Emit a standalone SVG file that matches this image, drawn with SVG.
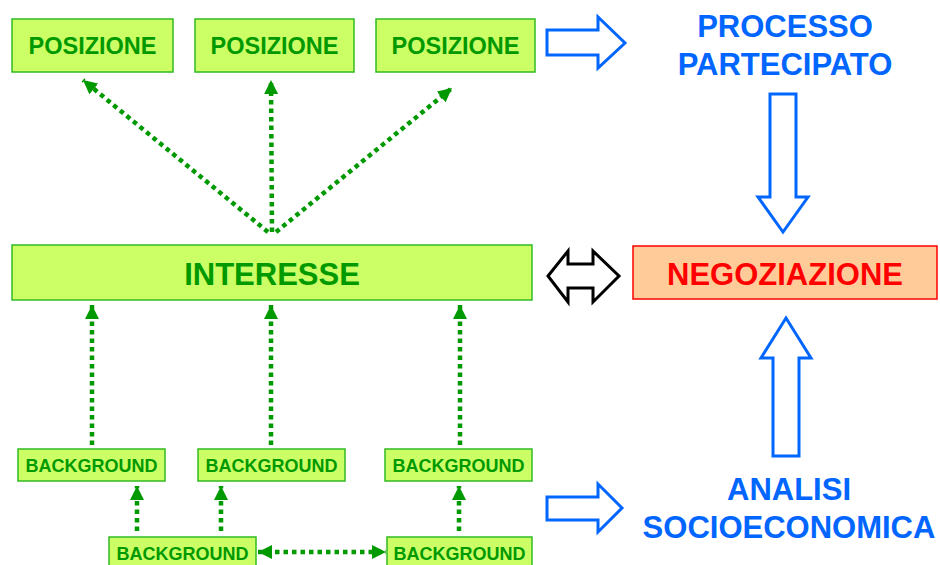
<svg xmlns="http://www.w3.org/2000/svg" width="940" height="565" viewBox="0 0 940 565">
<style>
.gbox{fill:#CCFF66;stroke:#33BB22;stroke-width:1.5}
.gt{font-family:"Liberation Sans",Arial,sans-serif;font-weight:bold;fill:#009900;text-anchor:middle}
.bt{font-family:"Liberation Sans",Arial,sans-serif;font-weight:bold;fill:#0066FF;text-anchor:middle;font-size:31px}
.dot{stroke:#009900;stroke-width:4.5;stroke-dasharray:4.5 4;fill:none;marker-end:url(#ah)}
.blk{fill:#FFFFFF;stroke:#0066FF;stroke-width:3;stroke-linejoin:miter}
</style>
<defs>
<marker id="ah" viewBox="0 0 10 10" refX="10" refY="5" markerWidth="14" markerHeight="14" markerUnits="userSpaceOnUse" orient="auto-start-reverse">
<path d="M0,0 L10,5 L0,10 z" fill="#009900"/>
</marker>
</defs>
<rect width="940" height="565" fill="#FFFFFF"/>
<g id="pos1"><rect class="gbox" x="12" y="19" width="161" height="53"/><text class="gt" x="92.5" y="54" font-size="23.5">POSIZIONE</text></g>
<g id="pos2"><rect class="gbox" x="195" y="19" width="159" height="53"/><text class="gt" x="274.5" y="54" font-size="23.5">POSIZIONE</text></g>
<g id="pos3"><rect class="gbox" x="376" y="19" width="159" height="53"/><text class="gt" x="455.5" y="54" font-size="23.5">POSIZIONE</text></g>
<g id="processo"><text class="bt" x="785" y="37">PROCESSO</text><text class="bt" x="785" y="75">PARTECIPATO</text></g>
<g id="interesse"><rect class="gbox" x="12" y="245" width="520" height="55"/><text class="gt" x="272" y="285" font-size="31">INTERESSE</text></g>
<g id="negoziazione"><rect x="633" y="246" width="304" height="53" fill="#FFCC99" stroke="#FF0000" stroke-width="1.5"/><text x="785" y="285" font-family="Liberation Sans,Arial,sans-serif" font-weight="bold" font-size="31" fill="#FF0000" text-anchor="middle">NEGOZIAZIONE</text></g>
<g id="analisi"><text class="bt" x="789" y="500">ANALISI</text><text class="bt" x="789" y="538">SOCIOECONOMICA</text></g>
<g id="bg1"><rect class="gbox" x="18" y="449" width="147" height="32"/><text class="gt" x="91.5" y="472" font-size="18">BACKGROUND</text></g>
<g id="bg2"><rect class="gbox" x="198" y="449" width="147" height="32"/><text class="gt" x="271.5" y="472" font-size="18">BACKGROUND</text></g>
<g id="bg3"><rect class="gbox" x="385" y="449" width="147" height="32"/><text class="gt" x="458.5" y="472" font-size="18">BACKGROUND</text></g>
<g id="bg4"><rect class="gbox" x="109" y="537" width="147" height="32"/><text class="gt" x="182.5" y="560" font-size="18">BACKGROUND</text></g>
<g id="bg5"><rect class="gbox" x="387" y="537" width="145" height="32"/><text class="gt" x="459.5" y="560" font-size="18">BACKGROUND</text></g>
<g id="connectors">
<line class="dot" x1="268" y1="232" x2="83" y2="80"/>
<line class="dot" x1="272" y1="232" x2="271" y2="80"/>
<line class="dot" x1="276" y1="232" x2="452" y2="88"/>
<line class="dot" x1="92" y1="445" x2="92" y2="305"/>
<line class="dot" x1="271" y1="445" x2="271" y2="305"/>
<line class="dot" x1="460" y1="445" x2="460" y2="305"/>
<line class="dot" x1="137" y1="531" x2="137" y2="486"/>
<line class="dot" x1="221" y1="531" x2="221" y2="486"/>
<line class="dot" x1="459" y1="531" x2="459" y2="486"/>
<line class="dot" x1="258" y1="552" x2="386" y2="552" marker-start="url(#ah)"/>
<polygon class="blk" points="547,30 598,30 598,17 625,43 598,68 598,55 547,55"/>
<polygon class="blk" points="770,94 796,94 796,197 808,197 783,232 758,197 770,197"/>
<polygon class="blk" points="773,456 799,456 799,358 811,358 786,318 761,358 773,358"/>
<polygon class="blk" points="547,497 598,497 598,484 622,508 598,532 598,520 547,520"/>
<polygon points="548,276 568,251 568,264 593,264 593,251 619,276 593,302 593,288 568,288 568,302" fill="#FFFFFF" stroke="#000000" stroke-width="3"/>
</g>
</svg>
